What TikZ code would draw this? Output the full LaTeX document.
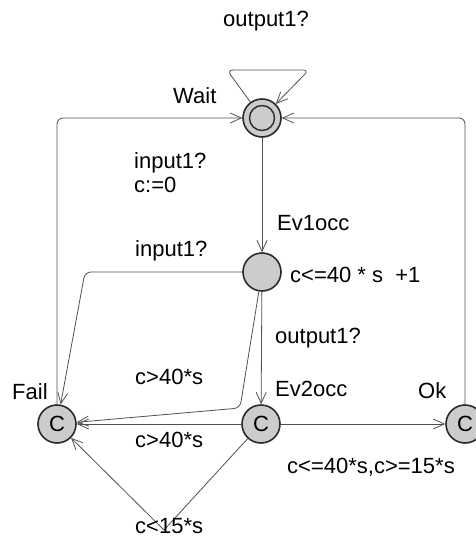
\documentclass[tikz,border=0pt]{standalone}
\usepackage{fontspec}
\setmainfont{Liberation Sans}
\usetikzlibrary{arrows.meta}
\definecolor{locfill}{HTML}{CCCCCC}
\definecolor{locline}{HTML}{2A2A2A}
\definecolor{edgeline}{HTML}{505050}
\begin{document}
\begin{tikzpicture}[x=1pt, y=-1pt,
  every node/.style={font=\fontsize{22}{24}\selectfont, inner sep=0pt},
  loc/.style={circle, draw=locline, fill=locfill, line width=1.6pt, minimum size=38pt},
  edge/.style={draw=edgeline, line width=0.8pt, rounded corners=6pt,
    -{Straight Barb[length=11pt, width=10pt, line width=0.8pt]}},
  lbl/.style={anchor=base west}]
\clip[use as bounding box] (0,0) rectangle (476,538);
\node (wait) [loc] at (262,118) {};
\node (waitin) [loc, minimum size=25pt, line width=1.4pt] at (wait) {};
\node (ev1)  [loc] at (262,272) {};
\node (ev2)  [loc] at (261,424) {C};
\node (fail) [loc] at (57,424) {C};
\node (ok)   [loc] at (465,424) {C};
% location names
\node (waitn) [lbl] at (173,103) {Wait};
\node (ev1n)  [lbl] at (277,230) {Ev1occ};
\node (ev2n)  [lbl] at (275,396) {Ev2occ};
\node (failn) [lbl] at (12,399) {Fail};
\node (okn)   [lbl] at (418,398) {Ok};
\node (inv)   [lbl] at (290,282) {c<=40 * s~~+1};
% transitions
\draw [edge] (wait) -- (227,70) -- (309,70) -- (wait);
\draw [edge] (wait) -- (ev1);
\draw [edge] (ev1) -- (ev2);
\draw [edge] (ev1) -- (85,272) -- (fail);
\draw [edge] (ev1) -- (240,408) -- (fail);
\draw [edge] (ev2) -- (fail);
\draw [edge] (ev2) -- (ok);
\draw [edge, rounded corners=0pt] (ev2) -- (164,530) -- (fail);
\draw [edge] (ok) -- (465,118) -- (wait);
\draw [edge] (fail) -- (57,118) -- (wait);
% guards, syncs and updates
\node (s1) [lbl] at (223,27) {output1?};
\node (s2) [lbl] at (134,168) {input1?};
\node (u2) [lbl] at (134,192) {c:=0};
\node (s3) [lbl] at (135,256) {input1?};
\node (g4) [lbl] at (135,384) {c>40*s};
\node (s5) [lbl] at (275,343) {output1?};
\node (g6) [lbl] at (135,447) {c>40*s};
\node (g7) [lbl] at (287,473) {c<=40*s,c>=15*s};
\node (g8) [lbl] at (135,533) {c<15*s};
\end{tikzpicture}
\end{document}
